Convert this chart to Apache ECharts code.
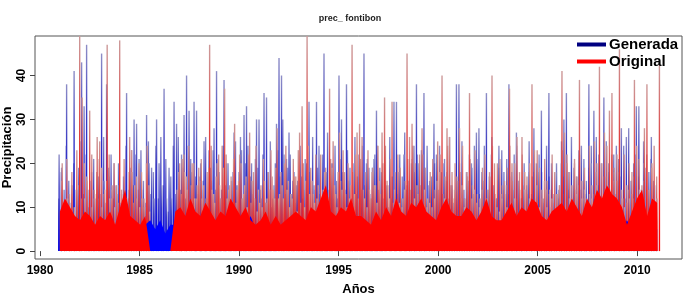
<!DOCTYPE html>
<html>
<head>
<meta charset="utf-8">
<script src="https://cdn.jsdelivr.net/npm/echarts@6/dist/echarts.min.js"></script>
<style>
  html, body { margin: 0; padding: 0; background: #fff; }
  #chart { width: 700px; height: 304px; }
</style>
</head>
<body>
<div id="chart"></div>
<script>
var chart = echarts.init(document.getElementById("chart"));

// periodo de los datos (años)
var startYear = 1981;
var endYear = 2011;
var xTicks = [1980, 1985, 1990, 1995, 2000, 2005, 2010];
var yTicks = [0, 10, 20, 30, 40];

// picos (8 por año), 1981 -> 2010
var genPeak = [
  22, 19, 14, 38, 12, 15, 41, 10,
  15, 43, 33, 47, 14, 18, 12, 10,
  12, 45, 16, 38, 17, 14, 20, 9,
  15, 13, 11, 36, 14, 23, 30, 29,
  21, 14, 10, 31, 20, 19, 12, 30,
  20, 15, 37, 12, 19, 12, 34, 29,
  15, 22, 31, 40, 32, 18, 34, 32,
  17, 14, 25, 12, 23, 16, 28, 41,
  18, 14, 39, 20, 13, 16, 27, 15,
  18, 23, 31, 33, 14, 20, 12, 30,
  30, 12, 36, 35, 14, 10, 15, 29,
  44, 40, 22, 21, 27, 13, 18, 15,
  12, 17, 14, 20, 34, 10, 15, 34,
  24, 12, 45, 18, 14, 20, 12, 16,
  40, 30, 14, 38, 16, 12, 20, 13,
  22, 14, 45, 20, 19, 12, 21, 32,
  14, 18, 12, 15, 10, 12, 34, 34,
  18, 12, 22, 14, 16, 20, 24, 38,
  20, 23, 36, 12, 15, 17, 29, 22,
  14, 18, 20, 16, 12, 15, 11, 38,
  38, 12, 14, 18, 16, 20, 13, 27,
  28, 12, 16, 36, 14, 22, 15, 12,
  24, 13, 18, 15, 38, 17, 14, 27,
  16, 12, 15, 14, 18, 12, 28, 20,
  18, 32, 12, 14, 36, 10, 11, 18,
  14, 20, 30, 36, 18, 12, 16, 14,
  15, 24, 12, 16, 38, 20, 32, 18,
  22, 12, 35, 17, 20, 14, 16, 24,
  20, 28, 12, 26, 14, 16, 12, 33,
  33, 14, 20, 12, 18, 26, 12, 15
];
var origPeak = [
  20, 8, 12, 10, 15, 9, 14, 49,
  35, 12, 16, 32, 10, 13, 26, 25,
  10, 14, 47, 12, 15, 10, 13, 48,
  10, 12, 9, 26, 18, 15, 12, 10,
  12, 10, 24, 9, 0, 0, 0, 0,
  0, 0, 0, 0, 0, 0, 14, 20,
  21, 18, 14, 10, 20, 12, 15, 16,
  12, 10, 18, 47, 14, 11, 20, 15,
  24, 37, 12, 15, 10, 29, 14, 22,
  12, 15, 10, 27, 16, 12, 9, 11,
  10, 16, 12, 14, 17, 12, 28, 13,
  15, 20, 14, 10, 12, 17, 9, 27,
  33, 10, 49, 13, 16, 11, 12, 9,
  12, 18, 10, 37, 19, 15, 10, 27,
  14, 18, 10, 12, 47, 13, 27, 29,
  26, 12, 10, 14, 18, 15, 11, 16,
  27, 35, 16, 12, 34, 14, 10, 11,
  10, 14, 45, 26, 29, 12, 15, 22,
  28, 14, 10, 11, 10, 12, 16, 18,
  40, 12, 28, 26, 18, 14, 17, 28,
  15, 10, 18, 36, 12, 14, 11, 10,
  14, 10, 12, 18, 40, 20, 10, 9,
  12, 16, 10, 37, 20, 12, 26, 18,
  26, 14, 17, 12, 38, 23, 15, 10,
  14, 16, 10, 13, 12, 8, 13, 15,
  41, 27, 22, 12, 15, 20, 13, 39,
  12, 14, 10, 13, 12, 25, 15, 42,
  12, 27, 14, 32, 36, 18, 22, 46,
  12, 10, 15, 12, 18, 39, 10, 14,
  15, 28, 38, 14, 20, 10, 12, 43
];

// lluvias intermedias entre picos (8 por año, a medio paso)
var genMid = [
  12, 18, 9, 24, 16, 11, 20, 14,
  19, 25, 13, 22, 10, 16, 21, 12,
  17, 13, 26, 11, 19, 22, 12, 15,
  20, 11, 17, 24, 12, 19, 15, 22,
  14, 23, 16, 11, 25, 13, 18, 24,
  12, 26, 15, 21, 9, 17, 24, 13,
  26, 14, 19, 12, 24, 21, 11, 17,
  13, 20, 16, 26, 11, 19, 23, 14,
  21, 12, 24, 15, 20, 11, 18, 25,
  15, 26, 12, 20, 24, 17, 13, 21,
  19, 14, 22, 11, 18, 25, 12, 20,
  23, 17, 30, 13, 19, 22, 16, 11,
  16, 24, 12, 21, 13, 18, 26, 14,
  19, 13, 22, 16, 27, 12, 20, 24,
  12, 21, 18, 14, 23, 19, 11, 26,
  17, 12, 24, 15, 21, 13, 19, 22,
  24, 19, 14, 22, 12, 26, 17, 13,
  13, 22, 17, 27, 15, 11, 21, 18,
  22, 15, 12, 19, 24, 16, 13, 20,
  17, 24, 13, 21, 18, 26, 15, 12,
  14, 20, 25, 12, 17, 22, 19, 24,
  21, 13, 18, 24, 11, 17, 26, 15,
  12, 19, 23, 14, 21, 13, 18, 22,
  24, 16, 12, 20, 15, 25, 13, 18,
  15, 22, 18, 11, 24, 17, 20, 13,
  20, 12, 25, 17, 22, 14, 26, 19,
  17, 23, 14, 21, 13, 19, 24, 12,
  26, 15, 20, 13, 25, 18, 12, 22,
  13, 21, 17, 24, 12, 28, 16, 20,
  22, 17, 13, 25, 19, 14, 21, 16
];
var origMid = [
  16, 11, 21, 13, 18, 10, 23, 15,
  12, 20, 17, 11, 22, 14, 18, 21,
  19, 13, 16, 22, 12, 20, 15, 11,
  14, 21, 12, 18, 23, 11, 17, 20,
  18, 12, 20, 15, 0, 0, 0, 0,
  0, 0, 0, 0, 0, 0, 0, 18,
  13, 22, 17, 24, 15, 20, 12, 19,
  21, 15, 12, 19, 24, 13, 17, 22,
  12, 19, 22, 14, 17, 21, 11, 16,
  20, 13, 17, 22, 11, 18, 24, 14,
  15, 21, 11, 18, 23, 14, 19, 12,
  18, 12, 24, 16, 13, 21, 17, 23,
  11, 20, 16, 24, 19, 13, 22, 15,
  22, 14, 19, 12, 21, 25, 13, 18,
  16, 23, 13, 20, 15, 18, 22, 12,
  21, 14, 18, 23, 12, 19, 15, 24,
  13, 20, 24, 15, 21, 11, 18, 22,
  19, 12, 16, 21, 14, 24, 20, 13,
  15, 22, 19, 12, 18, 21, 14, 25,
  22, 13, 17, 24, 15, 12, 20, 16,
  18, 24, 12, 17, 21, 15, 23, 13,
  12, 19, 22, 14, 17, 24, 13, 20,
  21, 15, 13, 19, 24, 16, 20, 12,
  14, 22, 18, 13, 20, 17, 12, 23,
  19, 12, 21, 16, 14, 22, 18, 13,
  15, 23, 13, 20, 18, 12, 21, 17,
  22, 16, 19, 12, 24, 15, 13, 20,
  13, 20, 17, 24, 15, 22, 19, 16,
  18, 14, 22, 11, 20, 13, 17, 24,
  21, 13, 16, 22, 14, 19, 24, 17
];

// nivel de la masa de lluvias diarias pequeñas (4 por año)
var origFloor = [
  9, 12, 10, 8,   7, 9, 8, 6,     8, 7, 9, 6,     10, 14, 8, 7,
  6, 8, 0, 0,     0, 0, 0, 9,     10, 8, 12, 9,   8, 11, 9, 7,
  9, 8, 12, 10,   8, 10, 7, 6,    7, 9, 6, 8,     6, 7, 8, 9,
  8, 7, 10, 9,    12, 15, 9, 8,   10, 9, 12, 8,   8, 7, 6, 9,
  7, 10, 8, 12,   9, 8, 11, 10,   12, 9, 8, 7,    10, 12, 9, 8,
  8, 10, 9, 7,    9, 12, 8, 7,    7, 9, 11, 8,    10, 9, 12, 11,
  8, 7, 9, 10,    11, 9, 12, 10,  8, 12, 10, 14,  12, 15, 13, 12,
  10, 6, 9, 12,   14, 8, 12, 11
];
var genFloor = [
  5, 4, 6, 5,     4, 5, 5, 4,     5, 6, 4, 5,     6, 5, 4, 5,
  5, 6, 7, 5,     7, 4, 6, 6,     5, 4, 6, 5,     4, 5, 6, 4,
  5, 4, 5, 6,     6, 5, 8, 5,     4, 5, 4, 6,     5, 5, 4, 5,
  4, 6, 5, 4,     5, 6, 5, 4,     6, 5, 4, 5,     4, 5, 5, 6,
  5, 4, 6, 5,     4, 5, 5, 4,     5, 6, 4, 5,     4, 5, 6, 5,
  5, 4, 5, 6,     4, 5, 4, 5,     6, 4, 5, 5,     4, 6, 5, 4,
  5, 5, 4, 6,     4, 5, 6, 5,     5, 4, 5, 6,     5, 6, 4, 5,
  5, 7, 5, 4,     5, 4, 6, 5
];

// puntos repartidos sobre el periodo; shift = 0.5 para los valores a medio paso
function toSeries(values, shift) {
  var n = values.length;
  var step = shift ? (endYear - startYear) / n : (endYear - startYear) / (n - 1);
  return values.map(function (v, i) {
    return [startYear + (i + (shift || 0)) * step, v];
  });
}

var font = "Liberation Sans, Arial, sans-serif";

var blueBar = new echarts.graphic.LinearGradient(0, 0, 0, 1, [
  { offset: 0, color: "#8e8ec6" },
  { offset: 0.35, color: "#3a3ac4" },
  { offset: 1, color: "#0000e0" }
]);
var redBar = new echarts.graphic.LinearGradient(0, 0, 0, 1, [
  { offset: 0, color: "#cc9a9a" },
  { offset: 0.45, color: "#e04040" },
  { offset: 1, color: "#ff0000" }
]);

var option = {
  animation: false,
  title: {
    text: "prec_ fontibon",
    left: "center",
    top: 9,
    textStyle: { fontSize: 9, fontWeight: "bold", color: "#222", fontFamily: font }
  },
  legend: {
    orient: "vertical",
    left: 572,
    top: 32,
    itemWidth: 29,
    itemHeight: 4,
    itemGap: 2,
    icon: "rect",
    textStyle: { fontSize: 15, fontWeight: "bold", color: "#000", fontFamily: font, padding: [0, 0, 0, -2] },
    data: [
      { name: "Generada", itemStyle: { color: "#000080" } },
      { name: "Original", itemStyle: { color: "#ff0000" } }
    ]
  },
  grid: {
    left: 35, right: 18, top: 36, bottom: 45,
    containLabel: false,
    outerBoundsMode: "none",
    show: true,
    borderColor: "#555",
    borderWidth: 1
  },
  xAxis: {
    type: "value",
    min: 1979.75,
    max: 2012.25,
    name: "Años",
    nameLocation: "middle",
    nameGap: 24,
    nameMoveOverlap: false,
    nameTextStyle: { fontSize: 13, fontWeight: "bold", color: "#000", fontFamily: font },
    axisLine: { show: false },
    axisTick: { show: true, length: 5, customValues: xTicks, lineStyle: { color: "#444" } },
    axisLabel: {
      customValues: xTicks, margin: 6, fontSize: 12, fontWeight: "bold", color: "#000", fontFamily: font,
      formatter: function (v) { return String(v); }
    },
    splitLine: { show: false }
  },
  yAxis: {
    type: "value",
    min: -1.8,
    max: 49,
    name: "Precipitación",
    nameLocation: "middle",
    nameGap: 21,
    nameRotate: 90,
    nameMoveOverlap: false,
    nameTextStyle: { fontSize: 13, fontWeight: "bold", color: "#000", fontFamily: font },
    axisLine: { show: false },
    axisTick: { show: true, length: 5, customValues: yTicks, lineStyle: { color: "#444" } },
    axisLabel: { customValues: yTicks, rotate: 90, margin: 7, fontSize: 12, fontWeight: "bold", color: "#000", fontFamily: font },
    splitLine: { show: false }
  },
  series: [
    {
      name: "GeneradaBase",
      type: "line",
      data: toSeries(genFloor),
      symbol: "none",
      lineStyle: { width: 0 },
      areaStyle: { color: "#0000ff", opacity: 1 },
      silent: true
    },
    {
      name: "GeneradaMedia",
      type: "bar",
      data: toSeries(genMid, 0.5),
      barWidth: 1.4,
      itemStyle: { color: blueBar }
    },
    {
      name: "Generada",
      type: "bar",
      data: toSeries(genPeak),
      barWidth: 1.4,
      itemStyle: { color: blueBar }
    },
    {
      name: "OriginalBase",
      type: "line",
      data: toSeries(origFloor),
      symbol: "none",
      lineStyle: { width: 0 },
      areaStyle: { color: "#ff0000", opacity: 1 },
      silent: true
    },
    {
      name: "OriginalMedia",
      type: "bar",
      data: toSeries(origMid, 0.5),
      barWidth: 1.4,
      itemStyle: { color: redBar }
    },
    {
      name: "Original",
      type: "bar",
      data: toSeries(origPeak),
      barWidth: 1.4,
      itemStyle: { color: redBar }
    }
  ]
};

chart.setOption(option);
</script>
</body>
</html>
